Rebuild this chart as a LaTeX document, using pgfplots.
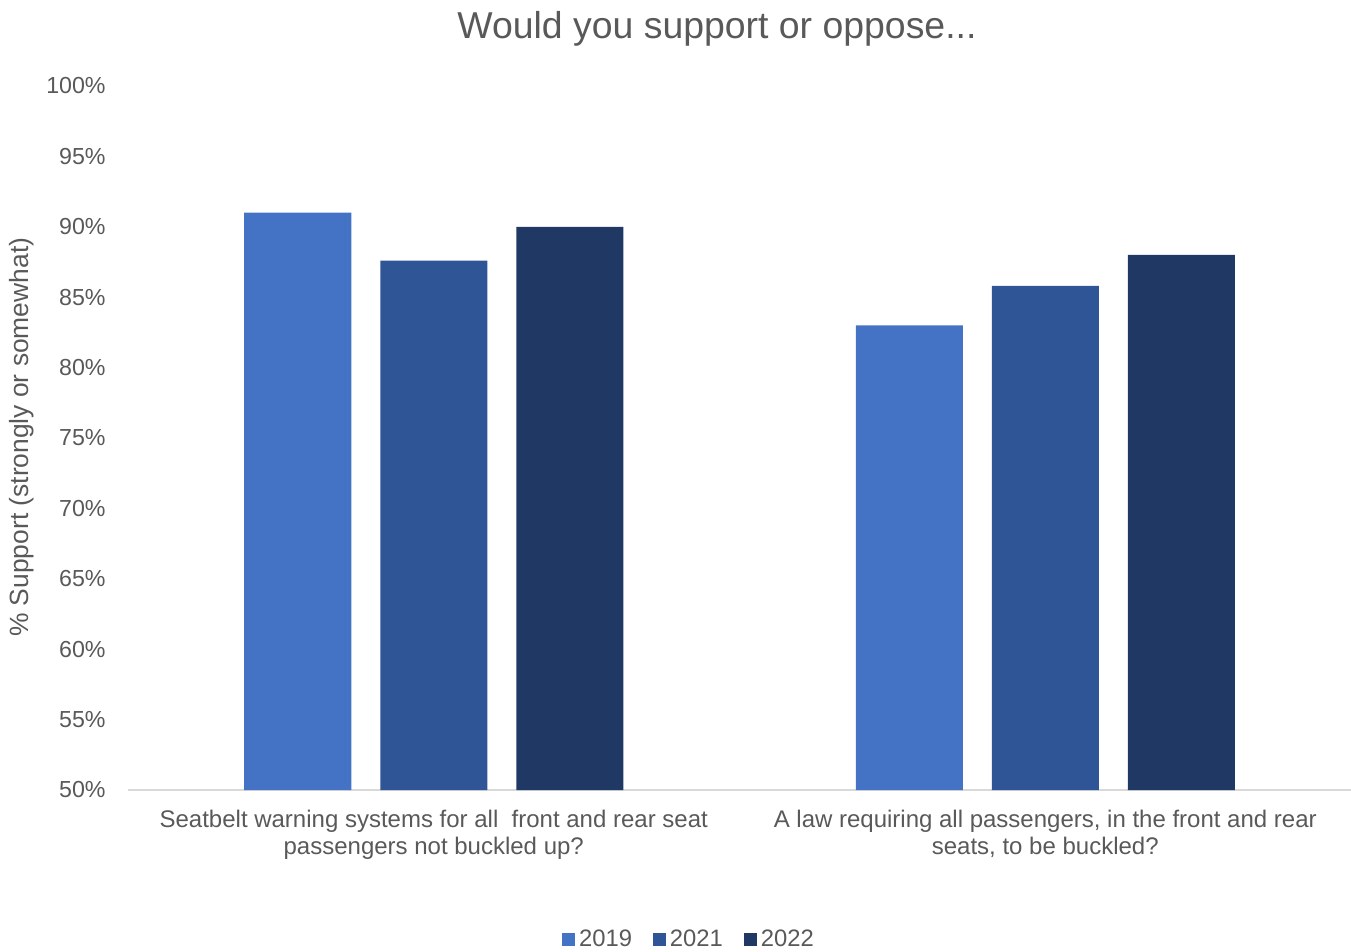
\documentclass[border=0pt]{standalone}
\usepackage{pgfplots}
\pgfplotsset{compat=1.18}
\usepackage{fontspec}
\setmainfont{Liberation Sans}
\definecolor{c19}{HTML}{4472C4}
\definecolor{c21}{HTML}{2F5597}
\definecolor{c22}{HTML}{203864}
\definecolor{txt}{HTML}{595959}
\definecolor{axl}{HTML}{D9D9D9}
\begin{document}
\begin{tikzpicture}
\useasboundingbox (0,0) rectangle (675.5pt,-476pt);
\begin{axis}[
  at={(64pt,-395pt)}, anchor=south west,
  scale only axis, width=611.5pt, height=352pt,
  ybar=14.5pt, bar width=53.5pt,
  xmin=-0.5, xmax=1.5, ymin=50, ymax=100,
  xtick={0,1},
  xticklabels={{Seatbelt warning systems for all\ \ front and rear seat\\passengers not buckled up?},{A law requiring all passengers, in the front and rear\\seats, to be buckled?}},
  xticklabel style={align=center, font=\fontsize{12}{13.5}\selectfont, text=txt, inner sep=0pt, yshift=-10pt, anchor=north},
  ytick={50,55,...,100},
  yticklabel={\pgfmathprintnumber{\tick}\%},
  yticklabel style={font=\fontsize{11.6}{13}\selectfont, text=txt, anchor=east, inner sep=0pt, xshift=-11pt},
  /pgf/number format/assume math mode=true,
  major tick length=0pt,
  axis lines=left,
  axis line style={-},
  y axis line style={draw=none},
  x axis line style={draw=axl, line width=0.6pt},
  every axis title shift=0pt,
  title={Would you support or oppose...},
  title style={at={(axis description cs:0.4816,1)}, anchor=center, yshift=28.5pt, font=\fontsize{18.7}{21}\selectfont, text=txt, inner sep=0pt},
  ylabel={\% Support (strongly or somewhat)},
  ylabel style={at={(axis description cs:-0.0867,0.501)}, anchor=center, rotate=0, font=\fontsize{13.2}{15}\selectfont, text=txt, inner sep=0pt},
  legend columns=-1,
  legend style={draw=none, at={(axis description cs:0.4595,-0.2125)}, anchor=center, font=\fontsize{11.9}{13}\selectfont, text=txt, /tikz/every even column/.append style={column sep=8.5pt}},
  legend image code/.code={\fill[#1] (0pt,-3.25pt) rectangle (6.5pt,3.25pt);},
  clip=false,
]
\addplot[fill=c19, draw=none] coordinates {(0,91) (1,83)};
\addplot[fill=c21, draw=none] coordinates {(0,87.6) (1,85.8)};
\addplot[fill=c22, draw=none] coordinates {(0,90) (1,88)};
\legend{2019,2021,2022}
\end{axis}
\end{tikzpicture}
\end{document}
